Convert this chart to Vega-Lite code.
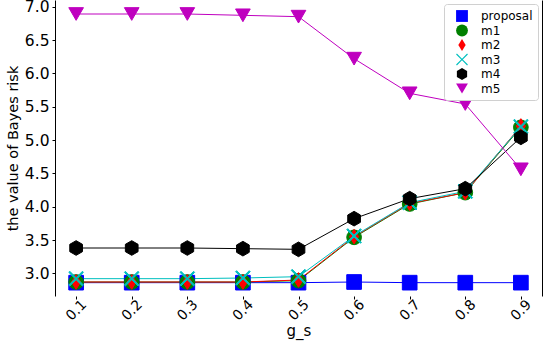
{
  "$schema": "https://vega.github.io/schema/vega-lite/v6.json",
  "width": 487,
  "height": 296,
  "autosize": {"type": "none"},
  "padding": {"left": 55, "top": 0, "right": 2, "bottom": 46},
  "background": "white",
  "config": {
    "view": {"stroke": null},
    "font": "DejaVu Sans",
    "axis": {"grid": false, "domainColor": "#000", "tickColor": "#000", "labelColor": "#000", "titleColor": "#000", "titleFontWeight": "normal", "labelFont": "DejaVu Sans", "titleFont": "DejaVu Sans"},
    "legend": {"orient": "top-right", "offset": 4, "padding": 5, "strokeColor": "#d0d0d0", "fillColor": "white", "cornerRadius": 3, "labelFontSize": 12, "labelColor": "#000", "symbolSize": 140, "rowPadding": 1.5, "labelOffset": 12, "symbolOffset": 6, "symbolStrokeWidth": 1.2}
  },
  "data": {"values": [
    {"g": 0.1, "v": 2.86, "s": "proposal"}, {"g": 0.2, "v": 2.86, "s": "proposal"}, {"g": 0.3, "v": 2.86, "s": "proposal"}, {"g": 0.4, "v": 2.86, "s": "proposal"}, {"g": 0.5, "v": 2.86, "s": "proposal"}, {"g": 0.6, "v": 2.87, "s": "proposal"}, {"g": 0.7, "v": 2.86, "s": "proposal"}, {"g": 0.8, "v": 2.86, "s": "proposal"}, {"g": 0.9, "v": 2.86, "s": "proposal"},
    {"g": 0.1, "v": 2.87, "s": "m1"}, {"g": 0.2, "v": 2.87, "s": "m1"}, {"g": 0.3, "v": 2.87, "s": "m1"}, {"g": 0.4, "v": 2.87, "s": "m1"}, {"g": 0.5, "v": 2.89, "s": "m1"}, {"g": 0.6, "v": 3.54, "s": "m1"}, {"g": 0.7, "v": 4.04, "s": "m1"}, {"g": 0.8, "v": 4.21, "s": "m1"}, {"g": 0.9, "v": 5.19, "s": "m1"},
    {"g": 0.1, "v": 2.87, "s": "m2"}, {"g": 0.2, "v": 2.87, "s": "m2"}, {"g": 0.3, "v": 2.87, "s": "m2"}, {"g": 0.4, "v": 2.87, "s": "m2"}, {"g": 0.5, "v": 2.90, "s": "m2"}, {"g": 0.6, "v": 3.55, "s": "m2"}, {"g": 0.7, "v": 4.05, "s": "m2"}, {"g": 0.8, "v": 4.21, "s": "m2"}, {"g": 0.9, "v": 5.21, "s": "m2"},
    {"g": 0.1, "v": 2.92, "s": "m3"}, {"g": 0.2, "v": 2.92, "s": "m3"}, {"g": 0.3, "v": 2.92, "s": "m3"}, {"g": 0.4, "v": 2.93, "s": "m3"}, {"g": 0.5, "v": 2.95, "s": "m3"}, {"g": 0.6, "v": 3.56, "s": "m3"}, {"g": 0.7, "v": 4.06, "s": "m3"}, {"g": 0.8, "v": 4.23, "s": "m3"}, {"g": 0.9, "v": 5.20, "s": "m3"},
    {"g": 0.1, "v": 3.38, "s": "m4"}, {"g": 0.2, "v": 3.38, "s": "m4"}, {"g": 0.3, "v": 3.38, "s": "m4"}, {"g": 0.4, "v": 3.37, "s": "m4"}, {"g": 0.5, "v": 3.36, "s": "m4"}, {"g": 0.6, "v": 3.82, "s": "m4"}, {"g": 0.7, "v": 4.12, "s": "m4"}, {"g": 0.8, "v": 4.27, "s": "m4"}, {"g": 0.9, "v": 5.04, "s": "m4"},
    {"g": 0.1, "v": 6.89, "s": "m5"}, {"g": 0.2, "v": 6.89, "s": "m5"}, {"g": 0.3, "v": 6.89, "s": "m5"}, {"g": 0.4, "v": 6.87, "s": "m5"}, {"g": 0.5, "v": 6.85, "s": "m5"}, {"g": 0.6, "v": 6.22, "s": "m5"}, {"g": 0.7, "v": 5.70, "s": "m5"}, {"g": 0.8, "v": 5.54, "s": "m5"}, {"g": 0.9, "v": 4.56, "s": "m5"}
  ]},
  "encoding": {
    "x": {"field": "g", "type": "quantitative", "scale": {"domain": [0.062, 0.938], "nice": false, "zero": false},
      "axis": {"title": "g_s", "values": [0.1, 0.2, 0.3, 0.4, 0.5, 0.6, 0.7, 0.8, 0.9], "format": ".1f", "domain": false, "tickSize": 3, "labelAngle": -45, "labelAlign": "center", "labelBaseline": "middle", "labelPadding": 11, "labelFontSize": 14, "titleFontSize": 15, "titlePadding": 1}},
    "y": {"field": "v", "type": "quantitative", "scale": {"domain": [2.66, 7.1], "nice": false, "zero": false}}
  },
  "layer": [
    {
      "mark": {"type": "line", "strokeWidth": 1, "clip": true},
      "encoding": {
        "y": {"field": "v", "type": "quantitative", "axis": {"orient": "left", "title": "the value of Bayes risk", "values": [3.0, 3.5, 4.0, 4.5, 5.0, 5.5, 6.0, 6.5, 7.0], "format": ".1f", "tickSize": 3, "labelPadding": 3, "labelFontSize": 15.5, "titleFontSize": 14.5, "titlePadding": 4}},
        "stroke": {"field": "s", "type": "nominal", "scale": {"domain": ["m5", "m4", "m3", "m2", "m1", "proposal"], "range": ["#bf00bf", "#000000", "#00bfbf", "#ff0000", "#008000", "#0000ff"]}, "legend": null},
        "detail": {"field": "s"}
      }
    },
    {
      "mark": {"type": "point", "filled": true, "opacity": 1, "strokeWidth": 1, "size": 215, "clip": true},
      "encoding": {
        "y": {"field": "v", "type": "quantitative", "axis": {"orient": "right", "title": null, "labels": false, "ticks": false, "domain": true}},
        "color": {"field": "s", "type": "nominal", "title": null, "scale": {"domain": ["proposal", "m1", "m2", "m3", "m4", "m5"], "range": ["#0000ff", "#008000", "#ff0000", "#00bfbf", "#000000", "#bf00bf"]}},
        "stroke": {"field": "s", "type": "nominal", "legend": null},
        "shape": {"field": "s", "type": "nominal", "title": null, "scale": {"domain": ["proposal", "m1", "m2", "m3", "m4", "m5"], "range": ["square", "circle", "M0,-1L0.62,0L0,1L-0.62,0Z", "M-1,-0.86L-0.86,-1L0,-0.14L0.86,-1L1,-0.86L0.14,0L1,0.86L0.86,1L0,0.14L-0.86,1L-1,0.86L-0.14,0Z", "M0,-1L0.866,-0.5L0.866,0.5L0,1L-0.866,0.5L-0.866,-0.5Z", "triangle-down"]}}
      }
    }
  ],
  "resolve": {"axis": {"y": "independent"}}
}
